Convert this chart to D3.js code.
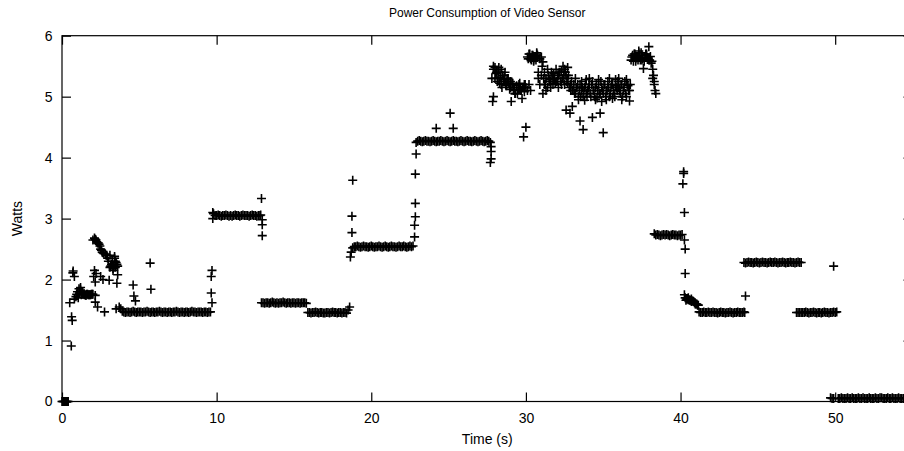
<!DOCTYPE html>
<html lang="en">
  <head>
    <meta charset="utf-8" />
    <title>Power Consumption of Video Sensor</title>
    <script src="https://cdn.jsdelivr.net/npm/d3@7/dist/d3.min.js"></script>
    <style>
      body {
        margin: 0;
        background: #fff;
      }

      svg {
        font-family: "Liberation Sans", Arial, Helvetica, sans-serif;
      }

      .axis path,
      .axis line {
        stroke: #000;
        stroke-width: 1.2;
      }

      .axis text {
        font-size: 14px;
        fill: #000;
      }

      .mark {
        fill: none;
        stroke: #000;
        stroke-width: 1.6;
      }
    </style>
  </head>

  <body>
    <svg id="chart"></svg>

    <script>
      // samples logged every 0.1 s, one row per second
      const sampleStep = 0.1;
      const sampleWatts = [
        0, 0, 0, 0, 0, 1.62, 0.91, 2.11, 2.05, 1.72, // 0 s
        1.8, 1.85, 1.83, 1.77, 1.76, 1.75, 1.76, 1.75, 1.75, 1.76,
        1.76, 2.68, 2.65, 2.6, 2.58, 2.5, 2.45, 2.43, 2.42, 2.4,
        2.3, 2.2, 2.25, 2.18, 2.35, 2.28, 2.22, 1.55, 1.52, 1.48,
        1.47, 1.46, 1.47, 1.47, 1.46, 1.47, 1.48, 1.47, 1.46, 1.47,
        1.47, 1.47, 1.46, 1.47, 1.47, 1.48, 1.47, 1.46, 1.47, 1.47, // 5 s
        1.46, 1.47, 1.47, 1.48, 1.47, 1.46, 1.47, 1.47, 1.46, 1.47,
        1.47, 1.46, 1.47, 1.47, 1.48, 1.47, 1.46, 1.47, 1.47, 1.46,
        1.47, 1.47, 1.46, 1.47, 1.48, 1.47, 1.47, 1.46, 1.47, 1.47,
        1.47, 1.46, 1.47, 1.47, 1.46, 1.47, 1.47, 1.62, 3.08, 3.05,
        3.05, 3.06, 3.05, 3.04, 3.05, 3.05, 3.06, 3.05, 3.04, 3.05, // 10 s
        3.04, 3.05, 3.06, 3.05, 3.05, 3.04, 3.05, 3.06, 3.05, 3.05,
        3.05, 3.04, 3.05, 3.06, 3.05, 3.05, 3.04, 3.05, 3.05, 1.62,
        1.62, 1.61, 1.62, 1.62, 1.61, 1.62, 1.63, 1.62, 1.61, 1.62,
        1.61, 1.62, 1.62, 1.63, 1.62, 1.61, 1.62, 1.62, 1.61, 1.62,
        1.62, 1.61, 1.62, 1.62, 1.61, 1.62, 1.62, 1.62, 1.61, 1.46, // 15 s
        1.46, 1.45, 1.46, 1.46, 1.47, 1.46, 1.45, 1.46, 1.46, 1.45,
        1.45, 1.46, 1.46, 1.45, 1.46, 1.47, 1.46, 1.46, 1.45, 1.46,
        1.46, 1.45, 1.46, 1.46, 1.45, 1.5, 1.55, 2.45, 2.52, 2.54,
        2.54, 2.55, 2.54, 2.53, 2.54, 2.55, 2.54, 2.54, 2.53, 2.54,
        2.55, 2.54, 2.53, 2.54, 2.54, 2.55, 2.54, 2.53, 2.54, 2.55, // 20 s
        2.54, 2.53, 2.54, 2.55, 2.54, 2.54, 2.53, 2.54, 2.55, 2.54,
        2.54, 2.55, 2.54, 2.53, 2.54, 2.55, 2.54, 2.55, 2.7, 4.25,
        4.27, 4.28, 4.27, 4.26, 4.27, 4.28, 4.27, 4.27, 4.26, 4.27,
        4.28, 4.27, 4.26, 4.27, 4.27, 4.28, 4.27, 4.26, 4.27, 4.28,
        4.27, 4.26, 4.27, 4.28, 4.27, 4.27, 4.26, 4.27, 4.28, 4.27, // 25 s
        4.26, 4.27, 4.28, 4.27, 4.27, 4.26, 4.27, 4.28, 4.27, 4.26,
        4.27, 4.28, 4.27, 4.26, 4.27, 4.28, 4.27, 4.25, 5.3, 5.45,
        5.48, 5.4, 5.3, 5.22, 5.45, 5.35, 5.25, 5.2, 5.3, 5.22,
        5.15, 5.2, 5.1, 5.05, 5.18, 5.12, 5.22, 5.1, 5.15, 5.2,
        5.15, 5.65, 5.7, 5.62, 5.68, 5.6, 5.66, 5.7, 5.3, 5.2, // 30 s
        5.35, 5.57, 5.2, 5.3, 5.45, 5.25, 5.15, 5.35, 5.3, 5.22,
        5.25, 5.35, 5.4, 5.2, 5.3, 5.45, 5.35, 5.22, 5.15, 5.2,
        5.1, 5.2, 5.05, 5.15, 5.0, 5.2, 5.1, 5.0, 5.15, 5.05,
        5.1, 5.2, 5.0, 5.25, 5.1, 5.15, 4.98, 5.2, 5.05, 5.15,
        5.05, 5.2, 5.1, 5.25, 5.0, 5.15, 5.2, 5.05, 5.18, 5.1, // 35 s
        5.15, 5.05, 5.2, 5.1, 5.25, 5.0, 5.18, 5.1, 5.6, 5.68,
        5.7, 5.62, 5.65, 5.72, 5.6, 5.68, 5.46, 5.65, 5.7, 5.62,
        5.6, 5.55, 5.45, 5.25, 2.73, 2.74, 2.73, 2.72, 2.73, 2.74,
        2.73, 2.74, 2.73, 2.72, 2.73, 2.74, 2.73, 2.73, 2.72, 2.73,
        2.73, 2.74, 3.74, 1.7, 1.68, 1.67, 1.66, 1.68, 1.65, 1.62, // 40 s
        1.6, 1.58, 1.47, 1.46, 1.46, 1.47, 1.46, 1.46, 1.47, 1.46,
        1.46, 1.47, 1.46, 1.46, 1.45, 1.46, 1.47, 1.46, 1.46, 1.45,
        1.46, 1.46, 1.47, 1.46, 1.45, 1.46, 1.46, 1.47, 1.46, 1.46,
        1.46, 1.47, 2.27, 2.28, 2.29, 2.28, 2.28, 2.27, 2.28, 2.29,
        2.28, 2.27, 2.28, 2.29, 2.28, 2.28, 2.27, 2.28, 2.29, 2.28, // 45 s
        2.28, 2.29, 2.28, 2.27, 2.28, 2.28, 2.29, 2.28, 2.27, 2.28,
        2.28, 2.29, 2.28, 2.28, 2.27, 2.28, 2.29, 2.28, 2.28, 1.46,
        1.46, 1.47, 1.46, 1.45, 1.46, 1.46, 1.47, 1.46, 1.45, 1.46,
        1.46, 1.45, 1.46, 1.47, 1.46, 1.46, 1.45, 1.46, 1.46, 1.47,
        1.46, 1.47, 0.05, 0.05, 0.06, 0.05, 0.05, 0.05, 0.06, 0.05, // 50 s
        0.05, 0.06, 0.05, 0.05, 0.05, 0.06, 0.05, 0.05, 0.06, 0.05,
        0.05, 0.05, 0.06, 0.05, 0.05, 0.05, 0.06, 0.05, 0.05, 0.06,
        0.06, 0.05, 0.05, 0.05, 0.06, 0.05, 0.05, 0.06, 0.05, 0.05,
        0.05, 0.06, 0.05, 0.05, 0.05, 0.06, 0.05, 0.05, 0.06, 0.05
      ];

      // extra readings logged between the regular samples [time s, watts]
      const strayPoints = [
        [0.05, 0], [0.15, 0], [0.25, 0], [0.35, 0],
        [0.62, 1.39], [0.66, 1.33], [0.72, 2.14], [0.8, 1.68],
        [0.95, 1.76], [1.05, 1.7], [1.15, 1.78], [1.2, 1.87], [1.25, 1.75], [1.35, 1.76],
        [1.45, 1.75], [1.55, 1.74], [1.65, 1.76], [1.75, 1.75], [1.85, 1.75], [1.95, 1.76],
        [2.0, 2.65], [2.05, 2.05], [2.1, 2.15], [2.15, 1.96], [2.2, 2.1],
        [2.15, 1.74], [2.15, 1.63], [2.3, 1.55], [2.75, 1.47], [2.5, 2.05], [2.65, 2.0],
        [2.15, 2.66], [2.25, 2.62], [2.35, 2.6], [2.45, 2.55], [2.55, 2.48], [2.65, 2.44],
        [2.85, 2.4], [2.95, 2.35], [3.15, 2.22], [3.25, 2.3], [3.35, 2.2], [3.55, 2.25],
        [3.05, 1.99], [3.1, 2.4], [3.3, 2.15], [3.4, 2.38], [3.45, 2.2],
        [3.55, 1.94], [3.6, 2.08], [3.5, 1.52], [3.45, 2.3],
        [4.6, 1.91], [4.65, 1.73], [4.75, 1.65], [5.7, 2.27], [5.75, 1.84],
        [9.65, 1.78], [9.65, 2.05], [9.7, 2.15], [9.75, 3.1], [9.75, 3.0],
        [12.85, 3.06], [12.9, 3.33], [12.95, 2.98], [12.95, 2.9], [12.95, 2.72],
        [18.65, 2.37], [18.75, 2.77], [18.75, 3.04], [18.8, 3.63],
        [22.8, 2.89], [22.85, 3.03], [22.85, 3.25], [22.85, 3.73], [22.9, 4.06],
        [24.2, 4.48], [25.1, 4.73], [25.3, 4.48],
        [27.75, 4.18], [27.75, 4.1], [27.75, 3.98], [27.7, 3.92],
        [27.9, 5.5], [28.0, 5.3], [28.2, 5.42], [28.4, 5.2], [28.6, 5.35],
        [28.8, 5.28], [29.0, 5.25], [29.3, 5.05], [29.6, 5.12], [29.9, 5.08],
        [28.05, 5.38], [28.15, 5.25], [28.25, 5.48], [28.35, 5.32], [28.45, 5.15],
        [28.55, 5.28], [28.65, 5.4], [28.75, 5.18], [28.85, 5.3], [28.95, 5.12],
        [29.15, 5.22], [29.25, 5.15], [29.45, 5.05], [29.55, 5.2], [29.65, 5.1],
        [29.85, 5.15], [29.95, 5.2],
        [27.85, 4.92], [27.9, 5.0], [29.05, 4.92], [29.75, 4.97], [30.0, 4.5],
        [29.85, 4.34], [30.1, 5.1], [30.2, 5.2], [30.3, 5.1],
        [30.15, 5.62], [30.25, 5.7], [30.35, 5.6], [30.45, 5.68], [30.55, 5.64],
        [30.65, 5.6], [30.75, 5.68],
        [30.5, 5.58], [30.7, 5.72], [30.9, 5.62], [31.0, 5.65], [30.8, 5.4],
        [31.05, 5.5], [31.2, 5.4], [31.4, 5.15], [31.6, 5.25], [31.8, 5.38],
        [31.3, 5.1], [31.1, 5.05],
        [31.15, 5.3], [31.25, 5.2], [31.45, 5.35], [31.55, 5.28], [31.65, 5.4],
        [31.75, 5.2], [31.85, 5.3], [31.95, 5.45],
        [32.1, 5.15], [32.3, 5.42], [32.5, 5.2], [32.6, 4.78], [32.7, 5.3],
        [32.85, 4.73], [32.9, 5.1], [32.4, 5.5], [32.7, 5.48],
        [32.05, 5.3], [32.15, 5.4], [32.25, 5.25], [32.35, 5.3], [32.45, 5.35],
        [32.55, 5.4], [32.65, 5.25], [32.75, 5.35], [32.95, 5.25],
        [33.0, 4.84], [33.5, 4.6], [33.7, 4.46], [33.2, 5.3], [33.6, 5.25],
        [33.9, 5.28], [33.4, 4.95], [33.8, 4.94],
        [33.05, 5.1], [33.15, 5.05], [33.25, 5.15], [33.35, 5.2], [33.45, 5.1],
        [33.55, 5.0], [33.65, 5.15], [33.75, 5.1], [33.85, 5.2], [33.95, 5.0],
        [34.3, 4.66], [34.8, 4.73], [34.1, 5.3], [34.5, 4.95], [34.7, 5.28], [34.9, 4.92],
        [34.05, 5.15], [34.15, 5.05], [34.25, 5.2], [34.35, 5.1], [34.45, 5.0],
        [34.55, 5.2], [34.65, 5.1], [34.75, 5.05], [34.85, 5.25], [34.95, 5.1],
        [35.0, 4.41], [35.2, 4.95], [35.4, 5.3], [35.6, 4.97], [35.8, 5.28],
        [35.05, 5.2], [35.15, 5.0], [35.25, 5.1], [35.35, 5.15], [35.45, 5.05],
        [35.55, 5.2], [35.65, 5.1], [35.75, 5.0], [35.85, 5.15], [35.95, 5.25],
        [36.0, 5.3], [36.2, 4.95], [36.5, 5.28], [36.7, 4.93], [36.75, 5.2],
        [36.05, 5.1], [36.15, 5.2], [36.25, 5.0], [36.35, 5.15], [36.45, 5.05],
        [36.55, 5.2], [36.65, 5.1],
        [36.85, 5.65], [36.95, 5.58], [37.05, 5.7], [37.15, 5.65], [37.25, 5.6],
        [37.35, 5.68], [37.45, 5.72], [37.55, 5.62], [37.65, 5.58], [37.75, 5.7],
        [37.85, 5.64], [37.95, 5.6], [38.05, 5.66], [38.15, 5.58],
        [37.1, 5.58], [37.3, 5.75], [37.5, 5.6], [37.8, 5.68], [37.95, 5.82],
        [38.25, 5.35], [38.3, 5.2], [38.35, 5.1], [38.4, 5.05], [38.2, 5.3], [38.3, 2.75],
        [40.2, 3.77], [40.15, 3.57], [40.25, 3.1], [40.25, 2.65], [40.3, 2.5],
        [40.3, 2.1], [40.25, 1.75], [40.35, 1.66], [40.5, 1.7], [40.7, 1.64],
        [40.45, 1.68], [40.55, 1.67], [40.65, 1.66], [40.75, 1.65], [40.85, 1.64],
        [40.95, 1.6], [41.05, 1.6], [41.15, 1.58],
        [44.15, 1.46], [44.2, 1.73], [44.1, 2.28],
        [47.5, 1.46], [47.6, 1.46], [47.7, 1.46], [47.8, 1.46],
        [49.9, 2.22], [49.7, 0.06], [49.8, 0.05], [49.9, 0.05]
      ];

      const xTicks = [0, 10, 20, 30, 40, 50];
      const yTicks = [0, 1, 2, 3, 4, 5, 6];

      const margin = { top: 35.7, left: 62, right: -8.5, bottom: 49.5 };
      const W = 904;
      const H = 451;
      const width = W - margin.left - margin.right;
      const height = H - margin.top - margin.bottom;

      const svg = d3.select("#chart").attr("width", W).attr("height", H);

      const x = d3.scaleLinear().domain([0, 55]).range([0, width]);
      const y = d3.scaleLinear().domain([0, 6]).range([height, 0]);

      const points = sampleWatts
        .map((w, i) => ({ t: +(i * sampleStep).toFixed(2), w }))
        .concat(strayPoints.map(([t, w]) => ({ t, w })));

      svg
        .append("text")
        .attr("x", margin.left + width / 2)
        .attr("y", 17)
        .attr("text-anchor", "middle")
        .style("font-size", "12px")
        .text("Power Consumption of Video Sensor");

      const g = svg.append("g").attr("transform", `translate(${margin.left},${margin.top})`);

      // frame (gnuplot draws a full border with mirrored ticks)
      g.append("rect")
        .attr("width", width)
        .attr("height", height)
        .attr("fill", "none")
        .attr("stroke", "#000")
        .attr("stroke-width", 1.2);

      g.append("g")
        .attr("class", "x axis")
        .attr("transform", `translate(0,${height})`)
        .call(d3.axisBottom(x).tickValues(xTicks).tickSizeInner(-9).tickSizeOuter(0).tickPadding(11.5));

      g.append("g")
        .attr("class", "x axis")
        .call(d3.axisTop(x).tickValues(xTicks).tickSizeInner(-9).tickSizeOuter(0).tickFormat(""));

      g.append("g")
        .attr("class", "y axis")
        .call(
          d3
            .axisLeft(y)
            .tickValues(yTicks)
            .tickFormat(d3.format("d"))
            .tickSizeInner(-9)
            .tickSizeOuter(0)
            .tickPadding(9.5)
        );

      g.append("g")
        .attr("class", "y axis")
        .attr("transform", `translate(${width},0)`)
        .call(d3.axisRight(y).tickValues(yTicks).tickSizeInner(-9).tickSizeOuter(0).tickFormat(""));

      g.selectAll(".axis .domain").remove();

      // "+" markers
      g.append("g")
        .selectAll("path")
        .data(points)
        .join("path")
        .attr("class", "mark")
        .attr("transform", d => `translate(${x(d.t)},${y(d.w)})`)
        .attr("d", "M-4.5,0H4.5M0,-4.5V4.5");

      svg
        .append("text")
        .attr("x", margin.left + width / 2)
        .attr("y", 444)
        .attr("text-anchor", "middle")
        .style("font-size", "14px")
        .text("Time (s)");

      svg
        .append("text")
        .attr("transform", `translate(22,${margin.top + height / 2}) rotate(-90)`)
        .attr("text-anchor", "middle")
        .style("font-size", "14px")
        .text("Watts");
    </script>
  </body>
</html>
